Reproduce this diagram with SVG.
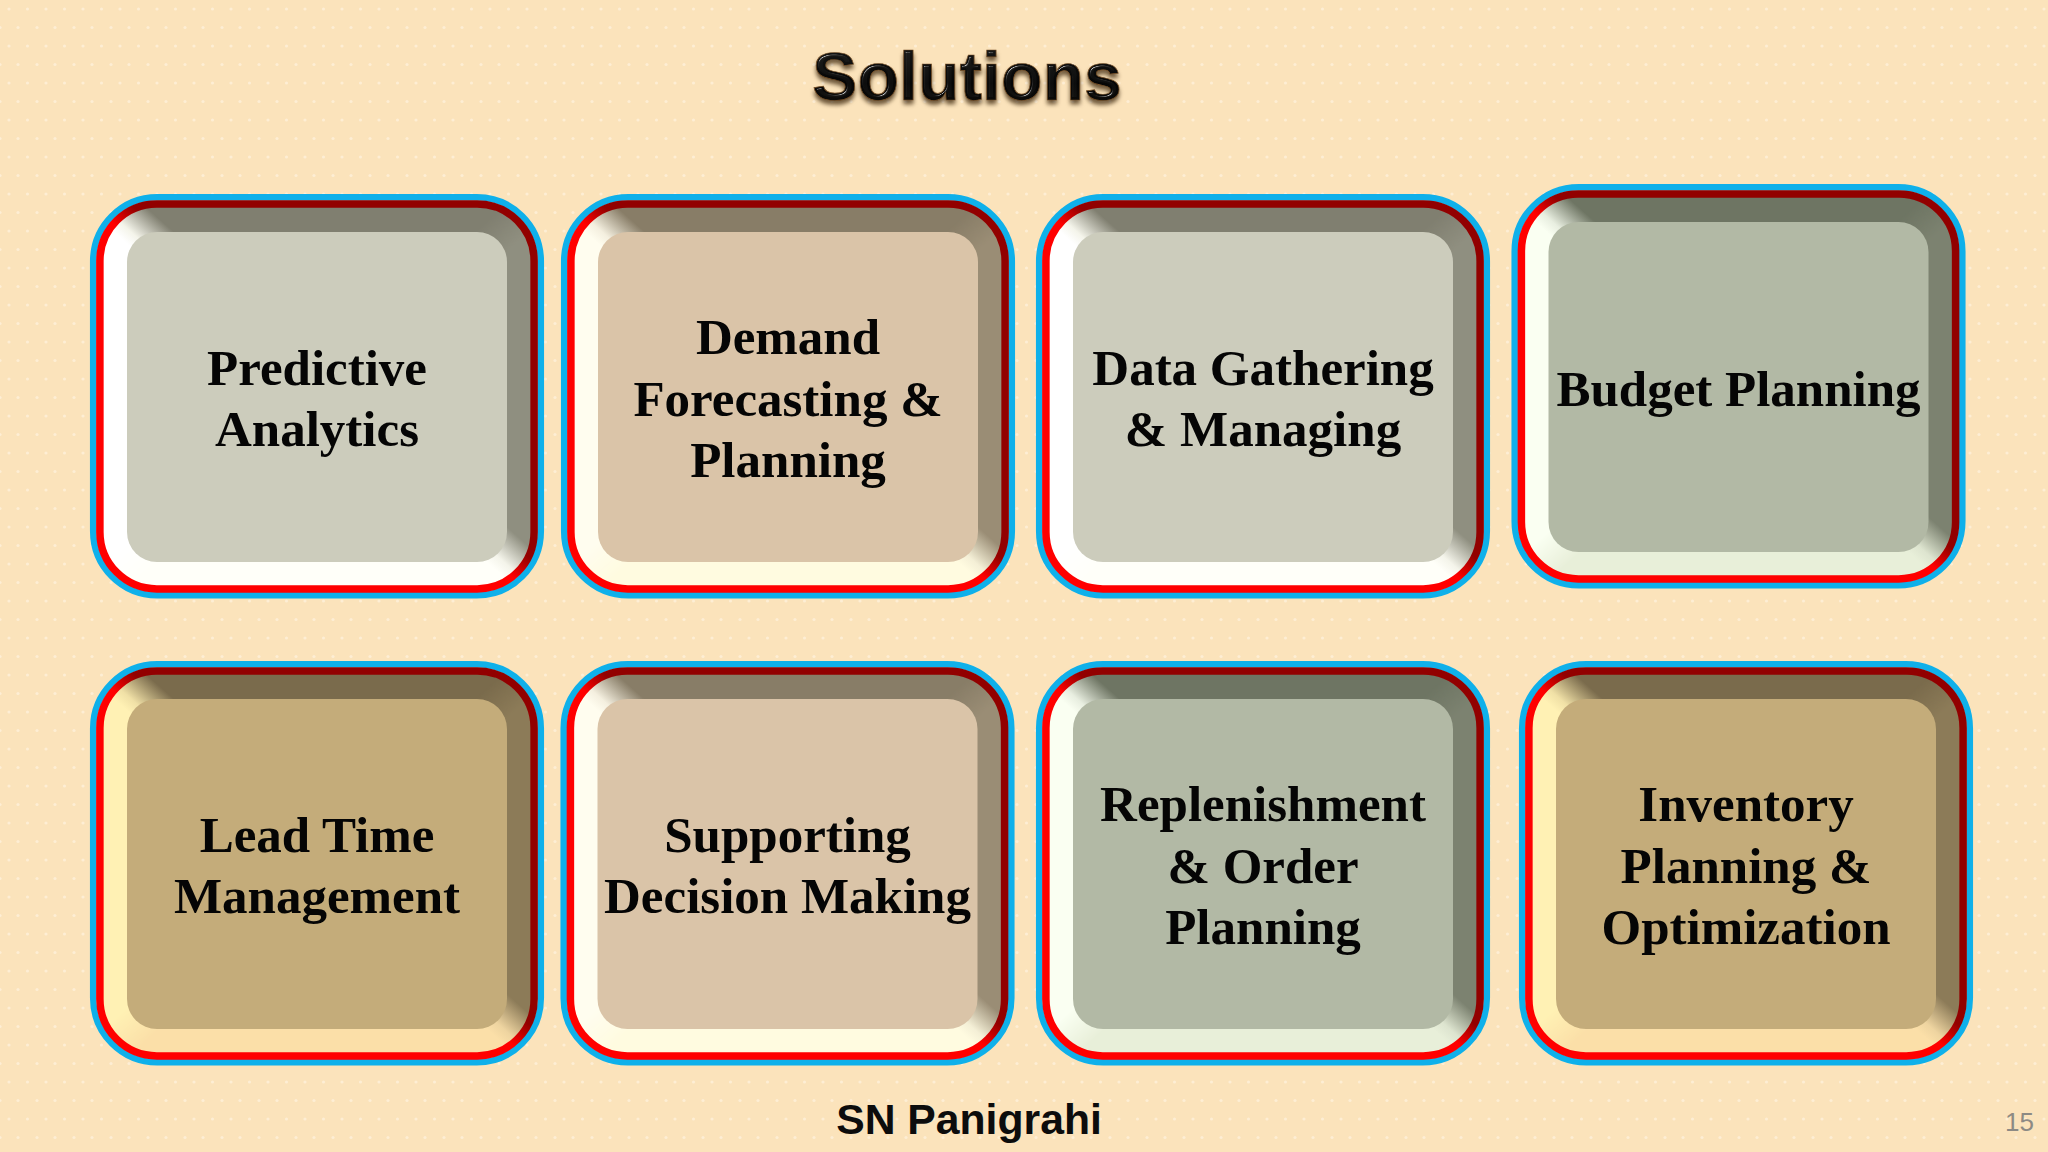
<svg xmlns="http://www.w3.org/2000/svg" width="2048" height="1152" viewBox="0 0 2048 1152">
<style>
.lbl{font-family:"Liberation Serif","Times New Roman",serif;font-weight:700;font-size:51px;fill:#050505;text-anchor:middle}
.ttl{font-family:"Liberation Sans",Arial,sans-serif;font-weight:700;font-size:68px;text-anchor:middle}
.ftr{font-family:"Liberation Sans",Arial,sans-serif;font-weight:700;font-size:42.7px;fill:#0c0c0c;text-anchor:middle}
.pg{font-family:"Liberation Sans",Arial,sans-serif;font-size:26px;fill:#8d8a84;text-anchor:end}
.blue{fill:none;stroke:#0fb0ea;stroke-width:6.5}
.red{fill:none;stroke:url(#redG);stroke-width:7.5}
</style>
<defs>
<pattern id="dots" width="37" height="37" patternUnits="userSpaceOnUse">
<rect width="37" height="37" fill="#fbe3bb"/>
<g fill="#feeed4"><circle cx="9" cy="9" r="1.6"/><circle cx="27.5" cy="9" r="1.6"/><circle cx="18" cy="27.5" r="1.6"/><circle cx="0" cy="27.5" r="1.6"/><circle cx="37" cy="27.5" r="1.6"/></g>
</pattern>
<linearGradient id="redG" x1="1" y1="0" x2="0" y2="1"><stop offset=".465" stop-color="#920000"/><stop offset=".51" stop-color="#ff0000"/></linearGradient>
<linearGradient id="softDiag" x1="0" y1="0" x2="1" y2="1"><stop offset=".47" stop-color="#000"/><stop offset=".53" stop-color="#fff"/></linearGradient>
<mask id="lowerRight" maskUnits="userSpaceOnUse" x="0" y="0" width="454" height="405"><rect width="454" height="405" fill="url(#softDiag)"/></mask>

<linearGradient id="g1a" x1="1" y1="0" x2="0" y2="1"><stop offset=".45" stop-color="#807f70"/><stop offset=".5" stop-color="#f4f4ea"/><stop offset=".52" stop-color="#ffffff"/></linearGradient>
<linearGradient id="g1b" x1="1" y1="0" x2="0" y2="1"><stop offset=".45" stop-color="#8f8f80"/><stop offset=".5" stop-color="#f4f4ea"/><stop offset=".52" stop-color="#fffff9"/></linearGradient>
<linearGradient id="g2a" x1="1" y1="0" x2="0" y2="1"><stop offset=".45" stop-color="#887d67"/><stop offset=".5" stop-color="#f4efdf"/><stop offset=".52" stop-color="#fffdef"/></linearGradient>
<linearGradient id="g2b" x1="1" y1="0" x2="0" y2="1"><stop offset=".45" stop-color="#9a8d75"/><stop offset=".5" stop-color="#f4efd6"/><stop offset=".52" stop-color="#fffbe0"/></linearGradient>
<linearGradient id="g3a" x1="1" y1="0" x2="0" y2="1"><stop offset=".45" stop-color="#6e7563"/><stop offset=".5" stop-color="#e8eee0"/><stop offset=".52" stop-color="#fafff2"/></linearGradient>
<linearGradient id="g3b" x1="1" y1="0" x2="0" y2="1"><stop offset=".45" stop-color="#7c8270"/><stop offset=".5" stop-color="#dde4cf"/><stop offset=".52" stop-color="#e8efd9"/></linearGradient>
<linearGradient id="g4a" x1="1" y1="0" x2="0" y2="1"><stop offset=".45" stop-color="#7a6b4c"/><stop offset=".5" stop-color="#f0e0a6"/><stop offset=".52" stop-color="#fff1b4"/></linearGradient>
<linearGradient id="g4b" x1="1" y1="0" x2="0" y2="1"><stop offset=".45" stop-color="#8c7b58"/><stop offset=".5" stop-color="#eed4a0"/><stop offset=".52" stop-color="#fbdfa8"/></linearGradient>

<rect id="rim-b" class="blue" x="3.2" y="3.2" width="447.6" height="398" rx="64"/>
<rect id="rim-r" class="red" x="9.9" y="9.9" width="434.2" height="385" rx="57"/>
<g id="t1"><use href="#rim-b"/><rect x="13" y="13" width="428" height="379" rx="54" fill="url(#g1a)"/><rect x="13" y="13" width="428" height="379" rx="54" fill="url(#g1b)" mask="url(#lowerRight)"/><use href="#rim-r"/><rect x="37" y="38" width="380" height="330" rx="30" fill="#ccccbc"/></g>
<g id="t2"><use href="#rim-b"/><rect x="13" y="13" width="428" height="379" rx="54" fill="url(#g2a)"/><rect x="13" y="13" width="428" height="379" rx="54" fill="url(#g2b)" mask="url(#lowerRight)"/><use href="#rim-r"/><rect x="37" y="38" width="380" height="330" rx="30" fill="#dac4a8"/></g>
<g id="t3"><use href="#rim-b"/><rect x="13" y="13" width="428" height="379" rx="54" fill="url(#g3a)"/><rect x="13" y="13" width="428" height="379" rx="54" fill="url(#g3b)" mask="url(#lowerRight)"/><use href="#rim-r"/><rect x="37" y="38" width="380" height="330" rx="30" fill="#b2b9a5"/></g>
<g id="t4"><use href="#rim-b"/><rect x="13" y="13" width="428" height="379" rx="54" fill="url(#g4a)"/><rect x="13" y="13" width="428" height="379" rx="54" fill="url(#g4b)" mask="url(#lowerRight)"/><use href="#rim-r"/><rect x="37" y="38" width="380" height="330" rx="30" fill="#c4ac7a"/></g>

<linearGradient id="ttlFill" x1="0" y1="0" x2="0" y2="1"><stop offset="0" stop-color="#1c1c1a"/><stop offset=".6" stop-color="#050505"/><stop offset="1" stop-color="#12100c"/></linearGradient>
<filter id="gloss" x="-10%" y="-30%" width="120%" height="170%" color-interpolation-filters="sRGB">
<feGaussianBlur in="SourceAlpha" stdDeviation="1.3" result="a"/>
<feSpecularLighting in="a" surfaceScale="3.5" specularConstant=".8" specularExponent="40" lighting-color="#ffffff" result="s"><feDistantLight azimuth="235" elevation="45"/></feSpecularLighting>
<feComposite in="s" in2="SourceAlpha" operator="in" result="sp"/>
<feGaussianBlur in="SourceAlpha" stdDeviation="2.2" result="b"/>
<feOffset in="b" dy="4" result="o"/>
<feFlood flood-color="#3f2910" flood-opacity=".75"/>
<feComposite in2="o" operator="in" result="sh"/>
<feMerge><feMergeNode in="sh"/><feMergeNode in="SourceGraphic"/><feMergeNode in="sp"/></feMerge>
</filter>
</defs>

<rect id="background" width="2048" height="1152" fill="url(#dots)"/>

<g id="title"><text class="ttl" x="967" y="99.5" fill="url(#ttlFill)" stroke="#7a5228" stroke-width=".7" filter="url(#gloss)">Solutions</text></g>

<g id="connectors"/>

<g id="node-predictive-analytics" transform="translate(90,194)"><use href="#t1"/><text class="lbl"><tspan x="227" y="190.8">Predictive</tspan><tspan x="227" y="251.8">Analytics</tspan></text></g>
<g id="node-demand-forecasting" transform="translate(561,194)"><use href="#t2"/><text class="lbl"><tspan x="227" y="160">Demand</tspan><tspan x="227" y="221.5">Forecasting &amp;</tspan><tspan x="227" y="283">Planning</tspan></text></g>
<g id="node-data-gathering" transform="translate(1036,194)"><use href="#t1"/><text class="lbl"><tspan x="227" y="190.8">Data Gathering</tspan><tspan x="227" y="251.8">&amp; Managing</tspan></text></g>
<g id="node-budget-planning" transform="translate(1511.5,184)"><use href="#t3"/><text class="lbl"><tspan x="227" y="221.5">Budget Planning</tspan></text></g>
<g id="node-lead-time" transform="translate(90,661)"><use href="#t4"/><text class="lbl"><tspan x="227" y="190.8">Lead Time</tspan><tspan x="227" y="251.8">Management</tspan></text></g>
<g id="node-supporting-decision" transform="translate(560.5,661)"><use href="#t2"/><text class="lbl"><tspan x="227" y="190.8">Supporting</tspan><tspan x="227" y="251.8">Decision Making</tspan></text></g>
<g id="node-replenishment" transform="translate(1036,661)"><use href="#t3"/><text class="lbl"><tspan x="227" y="160">Replenishment</tspan><tspan x="227" y="221.5">&amp; Order</tspan><tspan x="227" y="283">Planning</tspan></text></g>
<g id="node-inventory" transform="translate(1519,661)"><use href="#t4"/><text class="lbl"><tspan x="227" y="160">Inventory</tspan><tspan x="227" y="221.5">Planning &amp;</tspan><tspan x="227" y="283">Optimization</tspan></text></g>

<text class="ftr" x="969" y="1134">SN Panigrahi</text>
<text class="pg" x="2034" y="1131">15</text>
</svg>
